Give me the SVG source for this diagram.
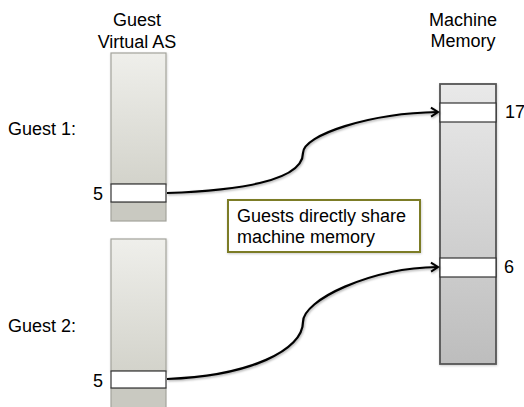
<svg xmlns="http://www.w3.org/2000/svg" width="524" height="407" viewBox="0 0 524 407">
<defs>
<style>
text{font-family:"Liberation Sans",Arial,sans-serif;font-size:18px;fill:#000}
.guest{fill:url(#gGuest);stroke:#a3a39c;stroke-width:1.2}
.guestLow{fill:#c9c9c1;stroke:#a3a39c;stroke-width:1.2}
.slot{fill:#fff;stroke:#333;stroke-width:1.2}
.mach{fill:url(#gMach);stroke:#555;stroke-width:1.8}
.conn{fill:none;stroke:#000;stroke-width:2.2;filter:url(#sh)}
</style>
<linearGradient id="gGuest" x1="0" y1="0" x2="0" y2="1">
<stop offset="0" stop-color="#efefeb"/>
<stop offset="1" stop-color="#d3d3cb"/>
</linearGradient>
<linearGradient id="gMach" x1="0" y1="0" x2="0" y2="1">
<stop offset="0" stop-color="#e9e9e9"/>
<stop offset="1" stop-color="#bdbdbd"/>
</linearGradient>
<filter id="sh" x="-10%" y="-10%" width="120%" height="130%">
<feDropShadow dx="0.8" dy="1.2" stdDeviation="1.2" flood-color="#000" flood-opacity="0.35"/>
</filter>
<filter id="shBox" x="-10%" y="-10%" width="120%" height="130%">
<feDropShadow dx="0.5" dy="1" stdDeviation="1" flood-color="#000" flood-opacity="0.2"/>
</filter>
<marker id="arr" markerWidth="12" markerHeight="12" refX="10" refY="6" orient="auto" markerUnits="userSpaceOnUse">
<path d="M3,1.5 L10,6 L3,10.5" fill="none" stroke="#000" stroke-width="2"/>
</marker>
</defs>

<text x="137" y="26" text-anchor="middle">Guest</text>
<text x="137" y="48" text-anchor="middle">Virtual AS</text>
<text x="463" y="26" text-anchor="middle">Machine</text>
<text x="463" y="47" text-anchor="middle">Memory</text>

<g id="guest1">
<text x="8" y="135">Guest 1:</text>
<rect class="guest" x="111" y="53" width="55" height="131" filter="url(#shBox)"/>
<rect class="guestLow" x="111" y="202" width="55" height="19"/>
<rect class="slot" x="111" y="184" width="55" height="18"/>
<text x="103" y="200" text-anchor="end">5</text>
</g>

<g id="guest2">
<text x="8" y="332">Guest 2:</text>
<rect class="guest" x="111" y="239" width="55" height="132" filter="url(#shBox)"/>
<rect class="guestLow" x="111" y="388" width="55" height="25"/>
<rect class="slot" x="111" y="371" width="55" height="17"/>
<text x="103" y="387" text-anchor="end">5</text>
</g>

<g id="machine">
<rect class="mach" x="440" y="84" width="56" height="280" filter="url(#shBox)"/>
<rect class="slot" x="440" y="103" width="56" height="19"/>
<rect class="slot" x="440" y="258" width="56" height="19"/>
<text x="505" y="118">17</text>
<text x="504" y="273">6</text>
</g>

<g id="note">
<rect x="228" y="200" width="192" height="52" fill="#fff" stroke="#7b7b26" stroke-width="2" filter="url(#shBox)"/>
<text x="237" y="222">Guests directly share</text>
<text x="237" y="243">machine memory</text>
</g>

<g id="connectors">
<path class="conn" d="M167,193 C250,190 303,178 303,153 C303,135 370,113 438,112" marker-end="url(#arr)"/>
<path class="conn" d="M167,379 C250,376 303,350 303,322 C303,300 370,268 438,267" marker-end="url(#arr)"/>
</g>
</svg>
